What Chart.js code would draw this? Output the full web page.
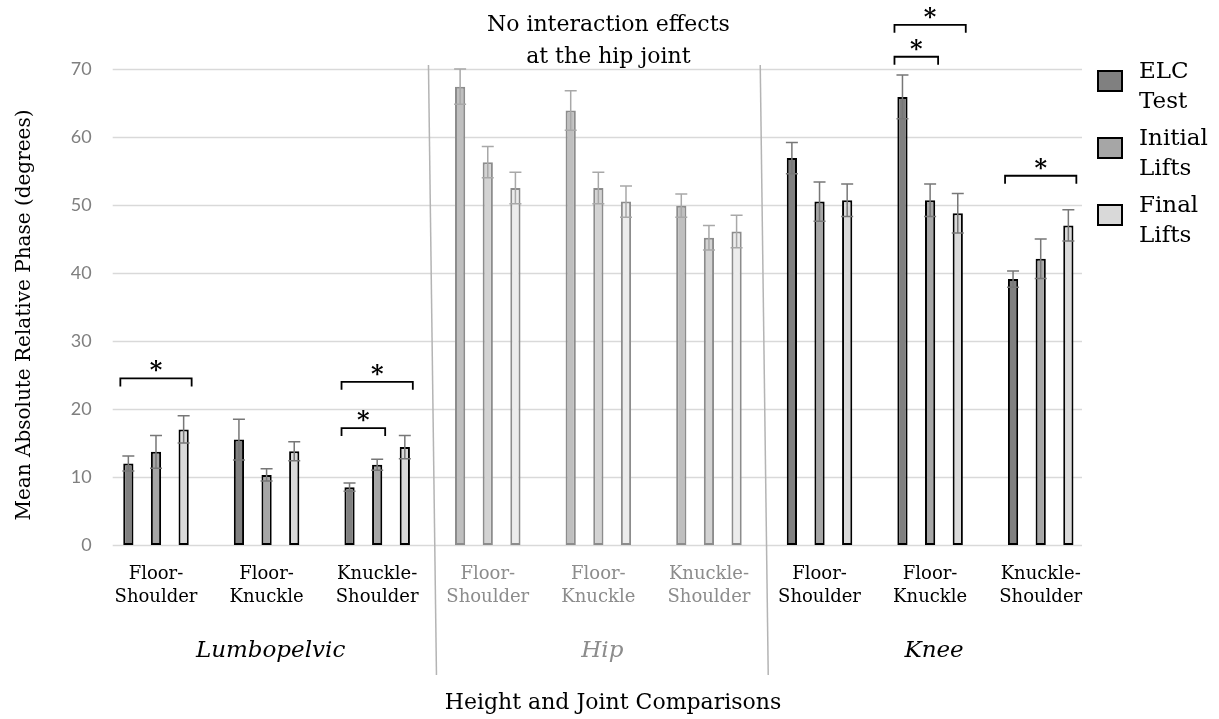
<!DOCTYPE html>
<html>
<head>
<meta charset="utf-8">
<script src="https://cdn.jsdelivr.net/npm/chart.js@4.4.1/dist/chart.umd.min.js"></script>
<style>
  html, body { margin: 0; padding: 0; background: #fff; }
</style>
</head>
<body>
<canvas id="myChart" width="1219" height="719"></canvas>
<script>
// categories
const heights = [['Floor-', 'Shoulder'], ['Floor-', 'Knuckle'], ['Knuckle-', 'Shoulder']];
const joints = ['Lumbopelvic', 'Hip', 'Knee'];
const seriesNames = [['ELC', 'Test'], ['Initial', 'Lifts'], ['Final', 'Lifts']];

// means and error bars, in order Lumbopelvic FS/FK/KS, Hip FS/FK/KS, Knee FS/FK/KS
const elcTest      = [12.0, 15.5, 8.5, 67.4, 63.9, 49.9, 56.9, 65.9, 39.1];
const elcErr       = [1.1, 3.0, 0.6, 2.6, 2.9, 1.7, 2.3, 3.2, 1.2];
const initialLifts = [13.7, 10.3, 11.8, 56.3, 52.5, 45.2, 50.5, 50.7, 42.1];
const initialErr   = [2.4, 0.9, 0.8, 2.3, 2.3, 1.8, 2.9, 2.4, 2.9];
const finalLifts   = [17.0, 13.8, 14.4, 52.5, 50.5, 46.1, 50.7, 48.8, 47.0];
const finalErr     = [2.0, 1.4, 1.7, 2.3, 2.3, 2.4, 2.4, 2.9, 2.3];

const yTicks = [0, 10, 20, 30, 40, 50, 60, 70];

// significance brackets: category, from series, to series, height
const sigCategory = [0, 2, 2, 7, 7, 8];
const sigFrom     = [0, 0, 0, 0, 0, 0];
const sigTo       = [2, 2, 1, 2, 1, 2];
const sigLevel    = [24.5, 24.0, 17.2, 76.5, 71.8, 54.3];

let labels = [];
joints.forEach(() => heights.forEach(h => labels.push(h)));

const serif = '"DejaVu Serif", serif';
const fills = ['#808080', '#a6a6a6', '#d9d9d9'];
const hipFills = ['#bfbfbf', '#d3d3d3', '#ececec'];
const isHip = i => Math.floor(i / 3) === 1;

const values = [elcTest, initialLifts, finalLifts];
const errors = [elcErr, initialErr, finalErr];

const datasets = values.map((vals, s) => ({
  label: seriesNames[s].join(' '),
  data: vals,
  backgroundColor: ctx => isHip(ctx.dataIndex) ? hipFills[s] : fills[s],
  borderColor: ctx => isHip(ctx.dataIndex) ? '#8c8c8c' : '#000',
  borderWidth: 2,
  borderSkipped: false,
  barPercentage: 0.37,
  categoryPercentage: 0.75
}));

const extras = {
  id: 'extras',
  beforeDatasetsDraw(chart) {
    const {ctx, chartArea, scales: {x, y}} = chart;
    ctx.save();
    // gridlines
    ctx.strokeStyle = '#d9d9d9';
    ctx.lineWidth = 1.5;
    yTicks.forEach(v => {
      const py = Math.round(y.getPixelForValue(v)) + 0.5;
      ctx.beginPath();
      ctx.moveTo(chartArea.left + 12, py);
      ctx.lineTo(chartArea.right - 14, py);
      ctx.stroke();
    });
    // joint separators
    ctx.strokeStyle = '#b4b4b4';
    [2, 5].forEach(i => {
      const mid = (x.getPixelForValue(i) + x.getPixelForValue(i + 1)) / 2;
      ctx.beginPath();
      ctx.moveTo(mid - 4, 65);
      ctx.lineTo(mid + 4, 675);
      ctx.stroke();
    });
    ctx.restore();
  },
  afterDatasetsDraw(chart) {
    const {ctx, scales: {y}} = chart;
    ctx.save();
    ctx.lineWidth = 1.5;
    values.forEach((vals, s) => {
      const meta = chart.getDatasetMeta(s);
      vals.forEach((v, j) => {
        const bx = meta.data[j].x;
        const top = y.getPixelForValue(v + errors[s][j]);
        const bot = y.getPixelForValue(v - errors[s][j]);
        ctx.strokeStyle = isHip(j) ? '#a8a8a8' : '#777777';
        ctx.beginPath();
        ctx.moveTo(bx, top); ctx.lineTo(bx, bot);
        ctx.moveTo(bx - 6, top); ctx.lineTo(bx + 6, top);
        ctx.moveTo(bx - 6, bot); ctx.lineTo(bx + 6, bot);
        ctx.stroke();
      });
    });
    ctx.restore();
  },
  afterDraw(chart) {
    const {ctx, scales: {x, y}} = chart;
    ctx.save();

    // significance brackets
    ctx.strokeStyle = '#000';
    ctx.fillStyle = '#000';
    ctx.lineWidth = 1.8;
    sigCategory.forEach((c, k) => {
      const x1 = chart.getDatasetMeta(sigFrom[k]).data[c].x - 8;
      const x2 = chart.getDatasetMeta(sigTo[k]).data[c].x + 8;
      const py = y.getPixelForValue(sigLevel[k]);
      ctx.beginPath();
      ctx.moveTo(x1, py + 8); ctx.lineTo(x1, py); ctx.lineTo(x2, py); ctx.lineTo(x2, py + 8);
      ctx.stroke();
      ctx.font = 'bold 24px ' + serif;
      ctx.textAlign = 'center';
      ctx.textBaseline = 'alphabetic';
      ctx.fillText('*', (x1 + x2) / 2, py);
    });

    // joint labels
    ctx.textAlign = 'center';
    ctx.textBaseline = 'middle';
    ctx.font = 'italic 23px ' + serif;
    joints.forEach((j, g) => {
      ctx.fillStyle = g === 1 ? '#8c8c8c' : '#000';
      ctx.fillText(j, x.getPixelForValue(g * 3 + 1) + 4, 651);
    });

    // axis titles
    ctx.fillStyle = '#000';
    ctx.font = '22px ' + serif;
    ctx.fillText('Height and Joint Comparisons', 613, 703);
    ctx.save();
    ctx.translate(25, 315);
    ctx.rotate(-Math.PI / 2);
    ctx.font = '20px ' + serif;
    ctx.fillText('Mean Absolute Relative Phase (degrees)', 0, 0);
    ctx.restore();

    // hip note
    const hipX = x.getPixelForValue(4) + 10;
    ctx.font = '22px ' + serif;
    ctx.fillText('No interaction effects', hipX, 25);
    ctx.fillText('at the hip joint', hipX, 57);

    // legend
    ctx.font = '23px ' + serif;
    ctx.textAlign = 'left';
    seriesNames.forEach((name, s) => {
      const ly = 72 + s * 67;
      ctx.fillStyle = fills[s];
      ctx.fillRect(1098, ly - 1, 24, 20);
      ctx.strokeStyle = '#000';
      ctx.lineWidth = 2;
      ctx.strokeRect(1098, ly - 1, 24, 20);
      ctx.fillStyle = '#000';
      ctx.fillText(name[0], 1139, ly);
      ctx.fillText(name[1], 1139, ly + 30);
    });
    ctx.restore();
  }
};

new Chart(document.getElementById('myChart'), {
  type: 'bar',
  data: { labels: labels, datasets: datasets },
  options: {
    responsive: false,
    animation: false,
    layout: { padding: { top: 69, right: 123, left: 0, bottom: 0 } },
    plugins: { legend: { display: false }, tooltip: { enabled: false } },
    scales: {
      x: {
        grid: { display: false, drawTicks: false },
        border: { display: false },
        ticks: {
          autoSkip: false,
          maxRotation: 0,
          padding: 18,
          color: ctx => isHip(ctx.index) ? '#8c8c8c' : '#000',
          font: { family: serif, size: 18, lineHeight: 1.28 }
        },
        afterFit(scale) { scale.height = 174; }
      },
      y: {
        min: 0,
        max: 70,
        grid: { display: false, drawTicks: false },
        border: { display: false },
        ticks: {
          stepSize: 10,
          padding: 9,
          color: '#7f7f7f',
          font: { family: 'Lato', size: 18 }
        },
        afterFit(scale) { scale.width = 100.7; }
      }
    }
  },
  plugins: [extras]
});
</script>
</body>
</html>
